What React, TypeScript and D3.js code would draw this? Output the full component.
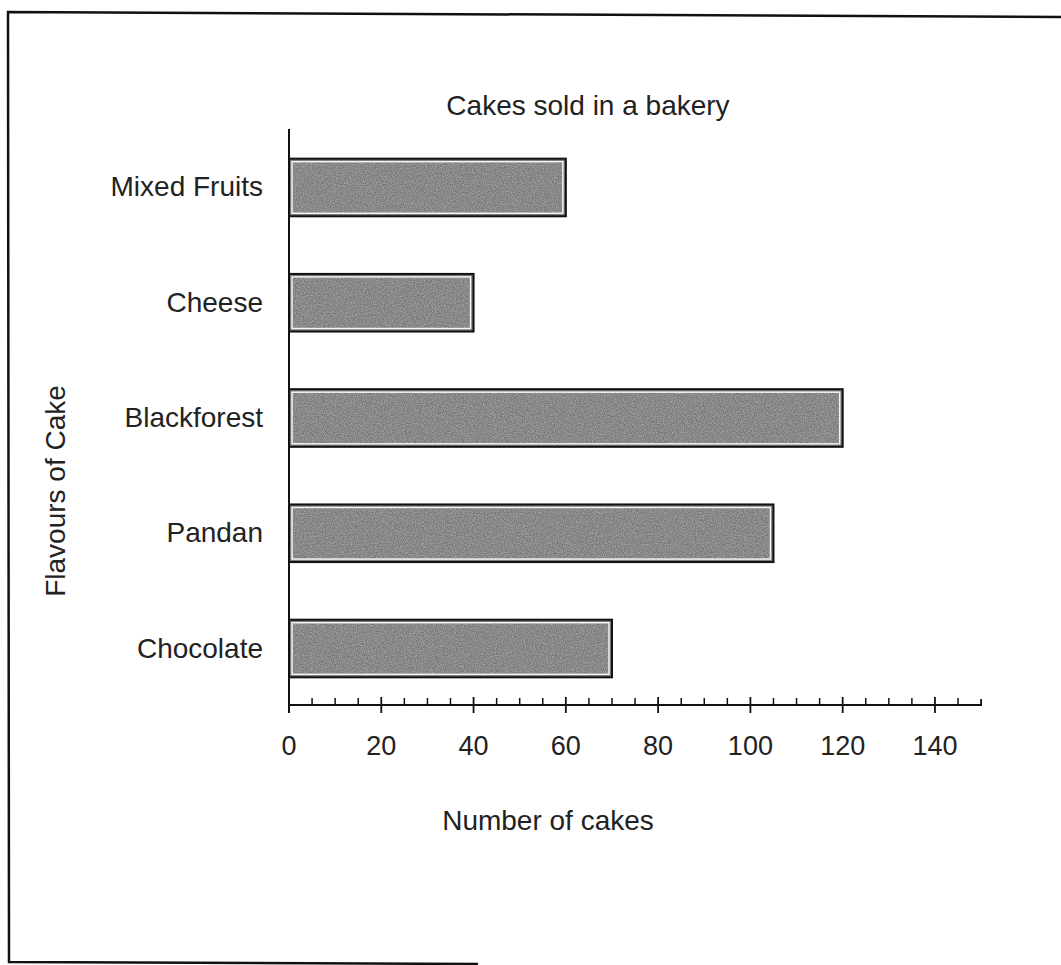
import React, { useEffect, useRef } from "react";
import * as d3 from "d3";

const flavours = ["Mixed Fruits", "Cheese", "Blackforest", "Pandan", "Chocolate"];
const cakesSold = [60, 40, 120, 105, 70];
const majorTicks = [0, 20, 40, 60, 80, 100, 120, 140];

const W = 1061;
const H = 965;

const App = () => {
  const chartRef = useRef<SVGSVGElement | null>(null);

  useEffect(() => {
    const svg = d3.select(chartRef.current);
    svg.selectAll("*").remove();

    const margin = { top: 131, left: 289, bottom: 705 };
    const font = "'Liberation Sans', Arial, sans-serif";

    // speckled grey fill like the scanned bars
    const defs = svg.append("defs");
    const filter = defs.append("filter").attr("id", "grain").attr("x", 0).attr("y", 0).attr("width", 1).attr("height", 1);
    filter
      .append("feTurbulence")
      .attr("type", "fractalNoise")
      .attr("baseFrequency", 0.9)
      .attr("numOctaves", 2)
      .attr("seed", 3)
      .attr("result", "noise");
    filter
      .append("feColorMatrix")
      .attr("in", "noise")
      .attr("type", "matrix")
      .attr("values", "0 0 0 0 0.45  0 0 0 0 0.45  0 0 0 0 0.45  0 0 0 -1.6 1.1")
      .attr("result", "tint");
    filter.append("feComposite").attr("in", "tint").attr("in2", "SourceGraphic").attr("operator", "in");

    // page frame (scanned sheet edge)
    svg
      .append("path")
      .attr("d", `M1061,17 L8,12 L9,962 L478,964`)
      .attr("fill", "none")
      .attr("stroke", "#111")
      .attr("stroke-width", 2.5);

    const x = d3.scaleLinear().domain([0, 150]).range([margin.left, margin.left + 150 * 4.614]);

    const y = d3
      .scaleBand()
      .domain(flavours)
      .range([margin.top, margin.bottom])
      .paddingInner(0.5)
      .paddingOuter(0.24);

    const data = flavours.map((name, i) => ({ name, value: cakesSold[i] }));

    const bars = svg.append("g");
    bars
      .selectAll("rect.outer")
      .data(data)
      .enter()
      .append("rect")
      .attr("class", "outer")
      .attr("x", x(0))
      .attr("y", (d) => y(d.name)!)
      .attr("width", (d) => x(d.value) - x(0))
      .attr("height", y.bandwidth())
      .attr("fill", "#777")
      .attr("stroke", "#111")
      .attr("stroke-width", 2);
    bars
      .selectAll("rect.grain")
      .data(data)
      .enter()
      .append("rect")
      .attr("class", "grain")
      .attr("x", x(0) + 3)
      .attr("y", (d) => y(d.name)! + 3)
      .attr("width", (d) => x(d.value) - x(0) - 6)
      .attr("height", y.bandwidth() - 6)
      .attr("fill", "#fff")
      .attr("filter", "url(#grain)")
      .attr("stroke", "none");
    bars
      .selectAll("rect.inner")
      .data(data)
      .enter()
      .append("rect")
      .attr("class", "inner")
      .attr("x", x(0) + 3)
      .attr("y", (d) => y(d.name)! + 3)
      .attr("width", (d) => x(d.value) - x(0) - 6)
      .attr("height", y.bandwidth() - 6)
      .attr("fill", "none")
      .attr("stroke", "#f4f4f4")
      .attr("stroke-width", 1.5);

    // y axis line
    svg
      .append("line")
      .attr("x1", x(0))
      .attr("x2", x(0))
      .attr("y1", margin.top - 2)
      .attr("y2", margin.bottom + 8)
      .attr("stroke", "#111")
      .attr("stroke-width", 2);

    // x axis: minor ticks up, major ticks crossing
    const gx = svg.append("g").attr("transform", `translate(0,${margin.bottom})`);
    gx.append("path")
      .attr("d", `M${x(0)},0 H${x(150)} V-6`)
      .attr("fill", "none")
      .attr("stroke", "#111")
      .attr("stroke-width", 1.8);
    gx.selectAll("line.minor")
      .data(d3.range(5, 150, 5).filter((v) => v % 20 !== 0))
      .enter()
      .append("line")
      .attr("x1", (d) => x(d))
      .attr("x2", (d) => x(d))
      .attr("y1", -7)
      .attr("y2", 0)
      .attr("stroke", "#111")
      .attr("stroke-width", 1.5);
    gx.selectAll("line.major")
      .data(majorTicks)
      .enter()
      .append("line")
      .attr("x1", (d) => x(d))
      .attr("x2", (d) => x(d))
      .attr("y1", -8)
      .attr("y2", 8)
      .attr("stroke", "#111")
      .attr("stroke-width", 1.8);
    gx.selectAll("text")
      .data(majorTicks)
      .enter()
      .append("text")
      .attr("x", (d) => x(d))
      .attr("y", 50)
      .attr("text-anchor", "middle")
      .attr("font-family", font)
      .attr("font-size", 27)
      .attr("fill", "#222")
      .text((d) => d);

    // category labels
    svg
      .append("g")
      .selectAll("text")
      .data(flavours)
      .enter()
      .append("text")
      .attr("x", 263)
      .attr("y", (d) => y(d)! + y.bandwidth() / 2 + 9)
      .attr("text-anchor", "end")
      .attr("font-family", font)
      .attr("font-size", 28)
      .attr("fill", "#222")
      .text((d) => d);

    // titles
    svg
      .append("text")
      .attr("x", 588)
      .attr("y", 115)
      .attr("text-anchor", "middle")
      .attr("font-family", font)
      .attr("font-size", 28)
      .attr("fill", "#222")
      .text("Cakes sold in a bakery");
    svg
      .append("text")
      .attr("x", 548)
      .attr("y", 830)
      .attr("text-anchor", "middle")
      .attr("font-family", font)
      .attr("font-size", 28)
      .attr("fill", "#222")
      .text("Number of cakes");
    svg
      .append("text")
      .attr("transform", `translate(65,491) rotate(-90)`)
      .attr("text-anchor", "middle")
      .attr("font-family", font)
      .attr("font-size", 28)
      .attr("fill", "#222")
      .text("Flavours of Cake");
  }, []);

  return (
    <svg
      ref={chartRef}
      width={W}
      height={H}
      style={{ position: "absolute", left: 0, top: 0, background: "#fff" }}
    />
  );
};

export default App;
